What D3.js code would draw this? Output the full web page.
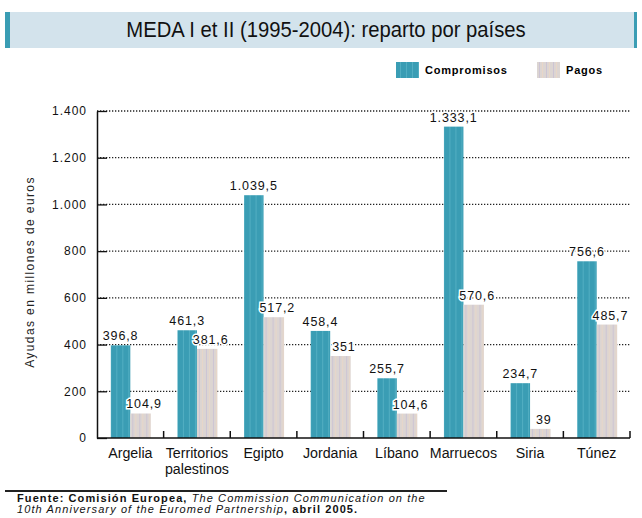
<!DOCTYPE html>
<html>
<head>
<meta charset="utf-8">
<script src="https://cdn.jsdelivr.net/npm/d3@7"></script>
<style>
  body { margin: 0; background: #fff; }
  svg { display: block; font-family: "Liberation Sans", Arial, sans-serif; }
</style>
</head>
<body>
<svg id="chart" width="642" height="518"></svg>
<script>
// chart data
const countries = ['Argelia', 'Territorios\npalestinos', 'Egipto', 'Jordania', 'Líbano', 'Marruecos', 'Siria', 'Túnez'];
const compromisos = [396.8, 461.3, 1039.5, 458.4, 255.7, 1333.1, 234.7, 756.6];
const pagos = [104.9, 381.6, 517.2, 351, 104.6, 570.6, 39, 485.7];
const yTicks = [0, 200, 400, 600, 800, 1000, 1200, 1400];
const seriesNames = ['Compromisos', 'Pagos'];

const svg = d3.select('#chart');
const margin = { top: 111, left: 97, right: 12, bottom: 80 };
const width = 642 - margin.left - margin.right;
const height = 518 - margin.top - margin.bottom;

// spanish number format
const es = d3.formatLocale({ decimal: ',', thousands: '.', grouping: [3], currency: ['', '€'] });
const fmtTick = es.format(',d');
const fmtVal = v => es.format(',')(v);

// patterns for the bars
const defs = svg.append('defs');
const pTeal = defs.append('pattern').attr('id', 'teal').attr('patternUnits', 'userSpaceOnUse')
  .attr('width', 6).attr('height', 4);
pTeal.append('rect').attr('width', 6).attr('height', 4).attr('fill', '#3a9db4');
pTeal.append('rect').attr('x', 4).attr('width', 1).attr('height', 4).attr('fill', '#52aec2');

const pGrey = defs.append('pattern').attr('id', 'grey').attr('patternUnits', 'userSpaceOnUse')
  .attr('width', 7).attr('height', 4);
pGrey.append('rect').attr('width', 7).attr('height', 4).attr('fill', '#dcd5d2');
pGrey.append('rect').attr('x', 2).attr('width', 1).attr('height', 4).attr('fill', '#ccc4d4');
pGrey.append('rect').attr('x', 5).attr('width', 1).attr('height', 4).attr('fill', '#e8d6c8');

// title banner
const banner = svg.append('g');
banner.append('rect').attr('x', 5).attr('y', 12).attr('width', 632).attr('height', 36).attr('fill', '#d3e3ec');
banner.append('rect').attr('x', 5).attr('y', 12).attr('width', 5).attr('height', 36).attr('fill', '#3a9db4');
banner.append('rect').attr('x', 634).attr('y', 12).attr('width', 3).attr('height', 36).attr('fill', '#3a9db4');
banner.append('text').attr('transform', 'translate(326,37) scale(0.9,1)').attr('text-anchor', 'middle')
  .attr('font-size', 22.5).attr('fill', '#111').text('MEDA I et II (1995-2004): reparto por países');

// legend
const legend = svg.append('g').selectAll('g').data(seriesNames).enter().append('g')
  .attr('transform', (d, i) => `translate(${396 + i * 141},62)`);
legend.append('rect').attr('width', 23).attr('height', 16).attr('fill', (d, i) => i ? 'url(#grey)' : 'url(#teal)');
legend.append('text').attr('x', 29).attr('y', 12).attr('font-size', 11).attr('font-weight', 'bold')
  .attr('letter-spacing', 0.8).text(d => d);

const g = svg.append('g').attr('transform', `translate(${margin.left},${margin.top})`);

const x = d3.scaleBand().domain(countries).range([0, width]);
const y = d3.scaleLinear().domain([0, 1400]).range([height, 0]);

// dotted grid
g.append('g').selectAll('line').data(yTicks.filter(d => d > 0)).enter().append('line')
  .attr('x1', 0).attr('x2', width).attr('y1', d => y(d)).attr('y2', d => y(d))
  .attr('stroke', '#222').attr('stroke-width', 1.3).attr('stroke-dasharray', '1.3,1.7');

// bars
const bw = 19.5;
const groups = g.selectAll('.country').data(countries).enter().append('g')
  .attr('transform', d => `translate(${x(d) + x.bandwidth() / 2},0)`);

groups.append('rect').attr('x', -bw).attr('width', bw)
  .attr('y', (d, i) => y(compromisos[i])).attr('height', (d, i) => height - y(compromisos[i]))
  .attr('fill', 'url(#teal)');
groups.append('rect').attr('x', 0).attr('width', bw + 1)
  .attr('y', (d, i) => y(pagos[i])).attr('height', (d, i) => height - y(pagos[i]))
  .attr('fill', 'url(#grey)');

// value labels with white halo
const addLabel = (vals, dx) => groups.append('text')
  .attr('x', dx).attr('y', (d, i) => y(vals[i]) - 5)
  .attr('text-anchor', 'middle').attr('font-size', 12.5).attr('letter-spacing', 0.9).attr('fill', '#111')
  .attr('stroke', '#fff').attr('stroke-width', 3).attr('paint-order', 'stroke')
  .text((d, i) => fmtVal(vals[i]));
addLabel(compromisos, -bw / 2);
addLabel(pagos, bw / 2 + 4);

// y axis
const yAxis = g.append('g').call(d3.axisLeft(y).tickValues(yTicks).tickFormat(fmtTick).tickSize(0).tickPadding(10));
yAxis.select('.domain').attr('stroke', '#111').attr('stroke-width', 1.5);
yAxis.selectAll('text').attr('font-size', 12).attr('letter-spacing', 1).attr('fill', '#111');
yAxis.selectAll('.tick').append('line').attr('x1', 0).attr('x2', 10).attr('stroke', '#111').attr('stroke-width', 1.3);

// x axis with ticks between the bands
const xAxis = g.append('g').attr('transform', `translate(0,${height})`);
xAxis.append('line').attr('x1', 0).attr('x2', width).attr('stroke', '#111').attr('stroke-width', 1.5);
xAxis.selectAll('.sep').data(countries).enter().append('line')
  .attr('x1', d => x(d) + x.bandwidth()).attr('x2', d => x(d) + x.bandwidth())
  .attr('y1', 0).attr('y2', -7).attr('stroke', '#111').attr('stroke-width', 1.5);
// one text per line of each category label
const xLines = countries.flatMap(c => c.split('\n').map((t, i) => ({ c, t, i })));
xAxis.selectAll('.lab').data(xLines).enter().append('text')
  .attr('text-anchor', 'middle').attr('font-size', 15).attr('fill', '#111')
  .attr('transform', d => `translate(${x(d.c) + x.bandwidth() / 2},${20 + d.i * 15.5}) scale(0.95,1)`)
  .text(d => d.t);

// y axis title
svg.append('text').attr('transform', 'translate(34,272) rotate(-90)').attr('text-anchor', 'middle')
  .attr('font-size', 12).attr('letter-spacing', 1.4).attr('fill', '#222').text('Ayudas en millones de euros');

// source
svg.append('line').attr('x1', 5).attr('x2', 447).attr('y1', 491).attr('y2', 491).attr('stroke', '#222').attr('stroke-width', 2);
const src = svg.append('text').attr('font-size', 11).attr('letter-spacing', 1.1).attr('fill', '#111');
const l1 = src.append('tspan').attr('x', 17).attr('y', 502);
l1.append('tspan').attr('font-weight', 'bold').text('Fuente: Comisión Europea, ');
l1.append('tspan').attr('font-style', 'italic').text('The Commission Communication on the');
const l2 = src.append('tspan').attr('x', 17).attr('y', 513);
l2.append('tspan').attr('font-style', 'italic').text('10th Anniversary of the Euromed Partnership');
l2.append('tspan').attr('font-weight', 'bold').text(', abril 2005.');
</script>
</body>
</html>
